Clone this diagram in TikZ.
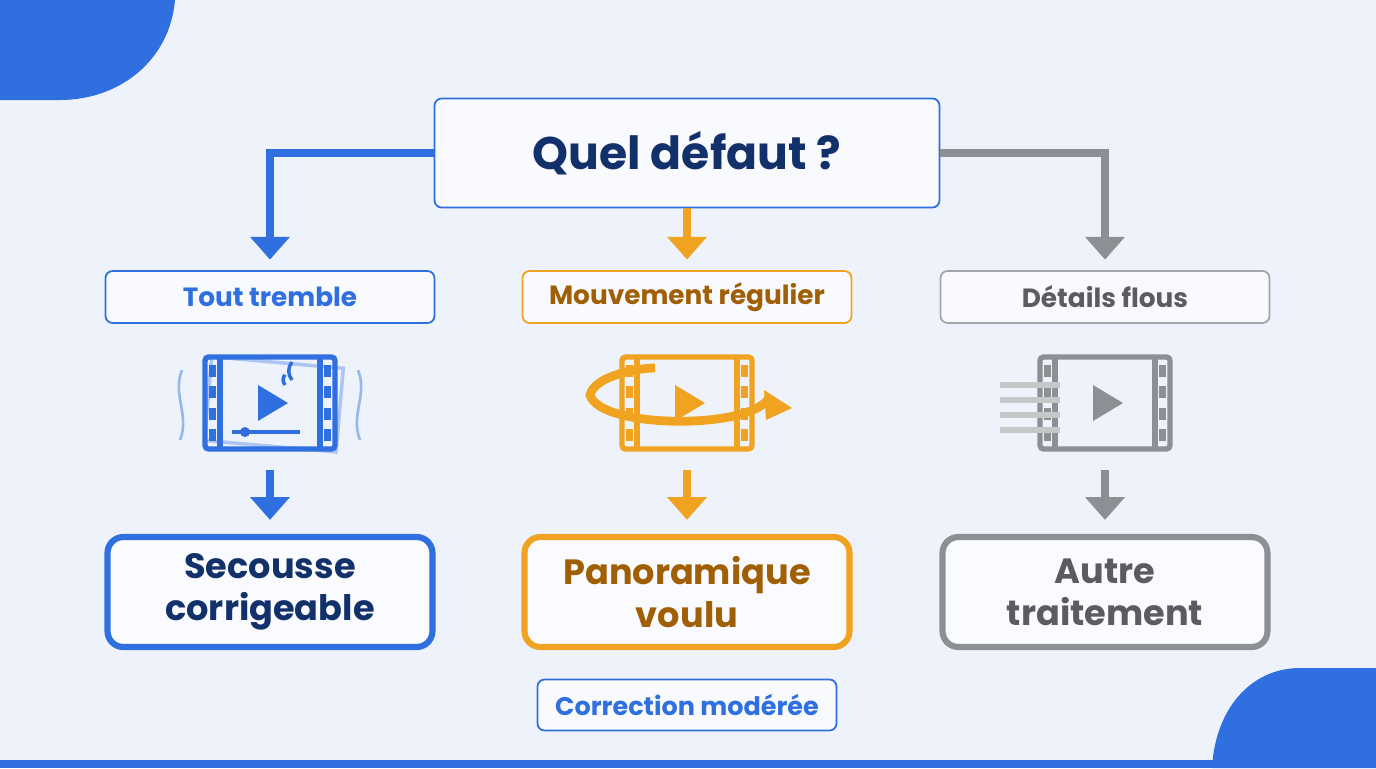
\documentclass[tikz,border=0pt]{standalone}
\usepackage{fontspec}
\setmainfont{Poppins}
\usetikzlibrary{positioning, arrows.meta}
\definecolor{bg}{HTML}{EEF3FB}
\definecolor{myblue}{HTML}{2F6FE0}
\definecolor{navy}{HTML}{12306A}
\definecolor{myorange}{HTML}{F0A321}
\definecolor{brown}{HTML}{A05F05}
\definecolor{mygray}{HTML}{8C8F94}
\definecolor{dgray}{HTML}{5A5C60}
\tikzset{
  tag/.style={draw=#1, line width=1pt, rounded corners=4pt, fill=white!60!bg,
    minimum width=6.58cm, minimum height=1.04cm, font=\bfseries\fontsize{15}{18}\selectfont},
  result/.style={draw=#1, line width=3.5pt, rounded corners=9pt, fill=white!70!bg,
    minimum width=6.5cm, minimum height=2.2cm, align=center,
    font=\bfseries\fontsize{20}{24}\selectfont, inner sep=2pt},
  link/.style={draw=#1, line width=4pt, -{Triangle[length=13pt,width=22pt]}},
  film/.style={draw=#1, line width=3pt, rounded corners=2pt}
}
\newcommand{\filmicon}[2]{% center, color
  \begin{scope}[shift={(#1)}]
    \draw[film=#2] (-65,-46) rectangle (65,46);
    \draw[#2, line width=3pt] (-50,-46) -- (-50,46) (50,-46) -- (50,46);
    \foreach \y in {-32,-11,11,32}{
      \fill[#2] (-61,\y-6) rectangle (-54,\y+6);
      \fill[#2] (54,\y-6) rectangle (61,\y+6);
    }
    \fill[#2] (-12,-18) -- (-12,18) -- (18,0) -- cycle;
  \end{scope}}
\begin{document}
\begin{tikzpicture}[x=0.02cm, y=-0.02cm]
  \fill[bg] (0,0) rectangle (1376,768);
  \fill[myblue] (0,0) -- (175,0) .. controls (170,60) and (120,100) .. (60,100) -- (0,100) -- cycle;
  \fill[myblue] (1376,668) -- (1300,668) .. controls (1250,668) and (1215,710) .. (1212,768) -- (1376,768) -- cycle;
  \fill[myblue] (0,760) rectangle (1376,768);

  % question
  \node[draw=myblue, line width=1pt, rounded corners=4pt, fill=white!60!bg,
    minimum width=10.1cm, minimum height=2.18cm, font=\bfseries\fontsize{26}{30}\selectfont,
    text=navy] (q) at (687,153) {Quel défaut ?};

  % categories
  \node[tag=myblue, text=myblue] (t1) at (270,297) {Tout tremble};
  \node[tag=myorange, text=brown] (t2) at (687,297) {Mouvement régulier};
  \node[tag=mygray!80, text=dgray] (t3) at (1105,297) {Détails flous};

  \coordinate (l1) at (270,153);
  \coordinate (l3) at (1105,153);
  \draw[link=myblue] (q.west) -- (l1) -- ([yshift=6pt]t1.north);
  \draw[link=mygray] (q.east) -- (l3) -- ([yshift=6pt]t3.north);
  \draw[link=myorange] (q.south) -- ([yshift=6pt]t2.north);

  % icons
  \draw[myblue!40, line width=2pt, rotate around={-5:(270,403)}] (208,362) rectangle (340,446);
  \filmicon{270,403}{myblue}
  \draw[myblue, line width=2.5pt] (232,432) -- (300,432);
  \fill[myblue] (245,432) circle (5);
  \draw[myblue, line width=2pt] (285,385) arc (-40:40:-8) (292,380) arc (-40:40:-14);
  \foreach \s in {-1,1}{
    \draw[myblue!50, line width=1.5pt] (270+\s*88,370) .. controls (270+\s*98,395) and (270+\s*80,415) .. (270+\s*90,440);
  }
  \filmicon{687,403}{myorange}
  \draw[myorange, line width=5pt] (770,395) .. controls (760,430) and (600,430) .. (590,395)
    .. controls (595,375) and (640,368) .. (655,368);
  \fill[myorange] (792,408) -- (764,390) -- (766,420) -- cycle;
  \filmicon{1105,403}{mygray}
  \foreach \y in {385,400,415,430}{
    \draw[mygray!50, line width=3pt] (1000,\y) -- (1060,\y);
  }

  % results
  \node[result=myblue, text=navy] (r1) at (270,592) {Secousse\\corrigeable};
  \node[result=myorange, text=brown] (r2) at (687,592) {Panoramique\\voulu};
  \node[result=mygray, text=dgray] (r3) at (1105,592) {Autre\\traitement};

  \coordinate (a1) at (270,470);
  \coordinate (a2) at (687,470);
  \coordinate (a3) at (1105,470);
  \draw[link=myblue] (a1) -- ([yshift=8pt]r1.north);
  \draw[link=myorange] (a2) -- ([yshift=8pt]r2.north);
  \draw[link=mygray] (a3) -- ([yshift=8pt]r3.north);

  \node[draw=myblue, line width=1pt, rounded corners=4pt, fill=white!60!bg,
    minimum width=5.98cm, minimum height=1.02cm, font=\bfseries\fontsize{14.5}{17}\selectfont, text=myblue]
    (c) at (687,705) {Correction modérée};
\end{tikzpicture}
\end{document}
